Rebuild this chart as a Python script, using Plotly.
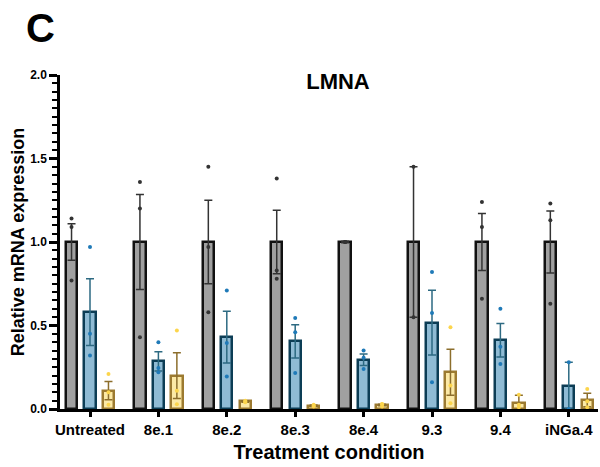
import plotly.graph_objects as go

categories = ["Untreated", "8e.1", "8e.2", "8e.3", "8e.4", "9.3", "9.4", "iNGa.4"]

gray_mean = [1.0, 1.0, 1.0, 1.0, 1.0, 1.0, 1.0, 1.0]
gray_sem = [0.11, 0.285, 0.25, 0.19, 0.004, 0.45, 0.17, 0.185]
gray_pts = [[1.14, 1.09, 0.77], [1.36, 1.20, 0.43], [1.45, 0.97, 0.58], [1.38, 0.83, 0.78],
            [1.0, 1.0, 1.0], [1.45, 0.55], [1.24, 1.09, 0.66], [1.23, 1.13, 0.63]]

blue_mean = [0.58, 0.285, 0.43, 0.405, 0.295, 0.517, 0.412, 0.14]
blue_sem = [0.20, 0.058, 0.155, 0.10, 0.034, 0.194, 0.10, 0.14]
blue_pts = [[0.97, 0.45, 0.32], [0.40, 0.245, 0.22], [0.71, 0.395, 0.195], [0.545, 0.46, 0.215],
            [0.35, 0.307, 0.24], [0.82, 0.575, 0.16], [0.60, 0.373, 0.27], [0.28, 0.0]]

yellow_mean = [0.11, 0.20, 0.045, 0.02, 0.024, 0.22, 0.038, 0.054]
yellow_sem = [0.055, 0.137, 0.005, 0.004, 0.005, 0.138, 0.044, 0.04]
yellow_pts = [[0.21, 0.10, 0.025], [0.47, 0.11, 0.028], [0.05, 0.04, 0.045], [0.025, 0.015, 0.02],
              [0.03, 0.028, 0.015], [0.49, 0.14, 0.034], [0.085, 0.025, 0.01], [0.12, 0.046, 0.01]]

series = [
    dict(mean=gray_mean, sem=gray_sem, pts=gray_pts, off=-0.27, fill="#a0a0a0", line="#111111",
         err="#333333", dot="#333333"),
    dict(mean=blue_mean, sem=blue_sem, pts=blue_pts, off=0.0, fill="#8fbbd4", line="#0c3d55",
         err="#2d6a82", dot="#1f7ab8"),
    dict(mean=yellow_mean, sem=yellow_sem, pts=yellow_pts, off=0.27, fill="#fce9a6", line="#9c7a30",
         err="#8c6e2c", dot="#fcd54c"),
]

fig = go.Figure()
idx = list(range(len(categories)))
for s in series:
    xs = [i + s["off"] for i in idx]
    fig.add_trace(go.Bar(
        x=xs, y=s["mean"], width=0.165,
        marker=dict(color=s["fill"], line=dict(color=s["line"], width=2.5)),
        error_y=dict(type="data", array=s["sem"], visible=True, color=s["err"],
                     thickness=1.5, width=4),
        showlegend=False,
    ))
for s in series:
    px, py = [], []
    for i, vals in enumerate(s["pts"]):
        for v in vals:
            px.append(i + s["off"])
            py.append(v)
    fig.add_trace(go.Scatter(
        x=px, y=py, mode="markers",
        marker=dict(color=s["dot"], size=4),
        showlegend=False, cliponaxis=False,
    ))

font_family = "Liberation Sans, Arial, Helvetica, sans-serif"

fig.update_layout(
    width=600, height=467,
    margin=dict(l=60, r=2, t=75, b=58),
    paper_bgcolor="white", plot_bgcolor="white",
    font=dict(family=font_family, color="black"),
    title=dict(text="<b>LMNA</b>", x=338 / 600, xanchor="center", y=1 - 81 / 467, yanchor="middle",
               font=dict(size=22, family=font_family, color="black")),
    bargap=0,
    annotations=[dict(text="<b>C</b>", xref="paper", yref="paper", x=-60 / 538 + 40 / 538,
                      y=1 + (75 - 28) / 334, xanchor="center", yanchor="middle", showarrow=False,
                      font=dict(size=40, family=font_family, color="black"))],
)

fig.update_xaxes(
    range=[-0.4386, 7.427], tickmode="array", tickvals=idx, ticktext=categories,
    showline=True, linewidth=2.5, linecolor="black", ticks="outside", ticklen=5, tickwidth=2.5,
    tickcolor="black", showgrid=False, zeroline=False,
    tickfont=dict(size=15, family=font_family, color="black", weight="bold"),
    title=dict(text="<b>Treatment condition</b>", font=dict(size=20, family=font_family), standoff=9),
)
fig.update_yaxes(
    range=[0, 2], dtick=0.5, tickformat=".1f",
    showline=True, linewidth=2.5, linecolor="black", ticks="outside", ticklen=8, tickwidth=2.5,
    tickcolor="black", showgrid=False, zeroline=False,
    minor=dict(dtick=0.05, ticks="outside", ticklen=5, tickwidth=2, tickcolor="black", showgrid=False),
    tickfont=dict(size=12, family=font_family, color="black", weight="bold"),
    title=dict(text="<b>Relative mRNA expression</b>", font=dict(size=18, family=font_family), standoff=1),
)

fig.write_html("out.html")
